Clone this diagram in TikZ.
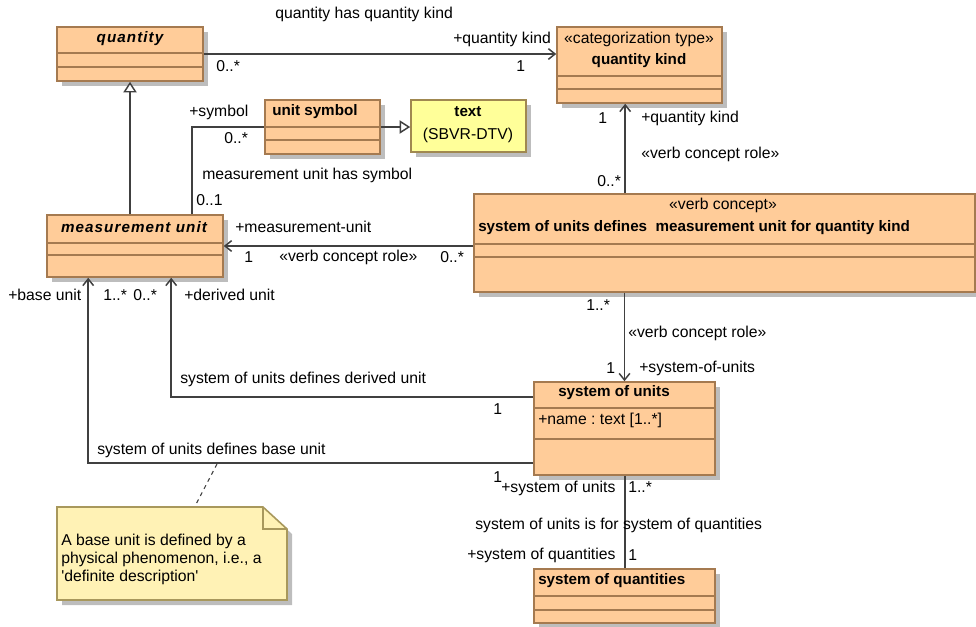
\documentclass[tikz,border=0pt]{standalone}
\usepackage{fontspec}
\setmainfont{Liberation Sans}
\usetikzlibrary{arrows.meta,shadows,fit,calc}
\frenchspacing
\definecolor{boxfill}{HTML}{FFCC99}
\definecolor{boxbd}{HTML}{A57A50}
\definecolor{txtfill}{HTML}{FFFF99}
\definecolor{txtbd}{HTML}{A08850}
\definecolor{notefill}{HTML}{FFF2B5}
\definecolor{notebd}{HTML}{A8985C}
\definecolor{linec}{HTML}{404040}
\definecolor{shadowc}{HTML}{BDBDBD}
\newcommand{\bfnt}{\fontsize{11.4}{13}\selectfont\bfseries}
\newcommand{\bfitsp}{\fontsize{11.4}{13}\selectfont\bfseries\itshape\addfontfeature{LetterSpace=7}}
\tikzset{
  shad/.style={drop shadow={fill=shadowc, opacity=1, shadow xshift=3.75pt, shadow yshift=-3.75pt}},
  cls/.style={draw=boxbd, fill=boxfill, line width=1.2pt, inner sep=0pt, shad},
  txtcls/.style={draw=txtbd, fill=txtfill, line width=1.2pt, inner sep=0pt, shad},
  divl/.style={draw=boxbd, line width=1.2pt},
  lbl/.style={inner sep=0pt, anchor=west, text=black},
  ctr/.style={inner sep=0pt, anchor=center, text=black},
  conn/.style={draw=linec, line width=1.1pt},
  assoc/.style={conn, -{Straight Barb[length=5pt,width=8pt,line width=1.1pt]}},
  gen/.style={conn, -{Triangle[open,length=8pt,width=10pt,fill=white,line width=1.1pt]}},
}
\begin{document}
\frenchspacing
\begin{tikzpicture}[x=0.75pt,y=-0.75pt,font=\fontsize{11.8}{13}\selectfont]
\useasboundingbox (0,0) rectangle (976,626);

% ---------- class boxes ----------
\node[cls, fit={(57,27) (203,81)}] (q) {};
\draw[divl] (57,53) -- (203,53) (57,67) -- (203,67);
\node[ctr, font=\bfitsp] (qt) at (130,39) {quantity};

\node[cls, fit={(557,27) (722,103)}] (qk) {};
\draw[divl] (557,76) -- (722,76) (557,89) -- (722,89);
\node[ctr] (qks) at (639,39) {«categorization type»};
\node[ctr, font=\bfnt] (qkt) at (639,61) {quantity kind};

\node[cls, fit={(265,100) (380,154)}] (us) {};
\draw[divl] (265,127) -- (380,127) (265,140) -- (380,140);
\node[lbl, font=\bfnt] (ust) at (272,112) {unit symbol};

\node[txtcls, fit={(411,100) (526,152)}] (txt) {};
\node[ctr, font=\bfnt] (txtt) at (468,112) {text};
\node[ctr] (txts) at (468,135) {(SBVR-DTV)};

\node[cls, fit={(47,215) (223,277)}] (mu) {};
\draw[divl] (47,243) -- (223,243) (47,255) -- (223,255);
\node[ctr, font=\bfitsp] (mut) at (134,227) {measurement unit};

\node[cls, fit={(474,194) (975,292)}] (vc) {};
\draw[divl] (474,244) -- (975,244) (474,257) -- (975,257);
\node[ctr] (vcs) at (723,205) {«verb concept»};
\node[lbl, font=\bfnt] (vct) at (478,228) {system of units defines\ \ measurement unit for quantity kind};

\node[cls, fit={(534,382) (715,475)}] (su) {};
\draw[divl] (534,408) -- (715,408) (534,439) -- (715,439);
\node[ctr, font=\bfnt] (sut) at (614,393) {system of units};
\node[lbl] (sua) at (538,420) {+name : text [1..*]};

\node[cls, fit={(534,569) (715,623)}] (soq) {};
\draw[divl] (534,596) -- (715,596) (534,610) -- (715,610);
\node[lbl, font=\bfnt] (soqt) at (538,581) {system of quantities};

% ---------- note ----------
\path[fill=notefill, draw=notebd, line width=1.2pt, shad]
  (57,507) -- (263,507) -- (287,529) -- (287,600) -- (57,600) -- cycle;
\draw[draw=notebd, line width=1.2pt] (263,507) -- (263,529) -- (287,529);
\node[inner sep=0pt, fit={(57,507) (287,600)}] (note) {};
\node[lbl] (n1) at (61,541) {A base unit is defined by a};
\node[lbl] (n2) at (61,559) {physical phenomenon, i.e., a};
\node[lbl] (n3) at (61,577) {\textquotesingle definite description\textquotesingle};

% ---------- connectors ----------
\draw[assoc] (q.east) -- (q.east -| qk.west);
\draw[gen] (q.south |- mu.north) -- (q.south);
\draw[conn] ($(mu.north west)+(146,0)$) |- (us.west);
\draw[gen] (us.east) -- (us.east -| txt.west);
\draw[assoc] (mu.east -| vc.west) -- (mu.east);
\coordinate (qkin) at ($(qk.south west)+(69,0)$);
\draw[assoc] (qkin |- vc.north) -- (qkin);
\draw[assoc] (su.north |- vc.south) -- (su.north);
\draw[assoc] ($(su.north west)+(0,16)$) -| ($(mu.south west)+(125,0)$);
\draw[assoc] ($(su.north west)+(0,82)$) -| ($(mu.south west)+(42,0)$);
\draw[conn] (su.south -| qkin) -- (soq.north -| qkin);
\coordinate (nb) at (217,464);
\draw[conn, line width=0.8pt, dashed] (nb) -- ($(note.north west)+(139,-2)$);

% ---------- labels ----------
\node[lbl] (l1) at (275,14) {quantity has quantity kind};
\node[lbl] (l2) at (453,39) {+quantity kind};
\node[lbl] (l3) at (216,66) {0..*};
\node[lbl] (l4) at (516,66) {1};
\node[lbl] (l5) at (189,112) {+symbol};
\node[lbl] (l6) at (224,138) {0..*};
\node[lbl] (l7) at (202,175) {measurement unit has symbol};
\node[lbl] (l8) at (196,200) {0..1};
\node[lbl] (l9) at (235,227) {+measurement-unit};
\node[lbl] (l10) at (244,257) {1};
\node[lbl] (l11) at (279,257) {«verb concept role»};
\node[lbl] (l12) at (440,257) {0..*};
\node[lbl] (l13) at (8,295) {+base unit};
\node[lbl] (l14) at (103,295) {1..*};
\node[lbl] (l15) at (133,295) {0..*};
\node[lbl] (l16) at (184,295) {+derived unit};
\node[lbl] (l17) at (598,118) {1};
\node[lbl] (l18) at (641,118) {+quantity kind};
\node[lbl] (l19) at (641,154) {«verb concept role»};
\node[lbl] (l20) at (597,181) {0..*};
\node[lbl] (l21) at (586,305) {1..*};
\node[lbl] (l22) at (628,333) {«verb concept role»};
\node[lbl] (l23) at (606,368) {1};
\node[lbl] (l24) at (639,368) {+system-of-units};
\node[lbl] (l25) at (180,379) {system of units defines derived unit};
\node[lbl] (l26) at (493,409) {1};
\node[lbl] (l27) at (97,450) {system of units defines base unit};
\node[lbl] (l28) at (493,477) {1};
\node[lbl] (l29) at (501,488) {+system of units};
\node[lbl] (l30) at (628,487) {1..*};
\node[lbl] (l31) at (475,525) {system of units is for system of quantities};
\node[lbl] (l32) at (467,555) {+system of quantities};
\node[lbl] (l33) at (628,555) {1};
\end{tikzpicture}
\end{document}
